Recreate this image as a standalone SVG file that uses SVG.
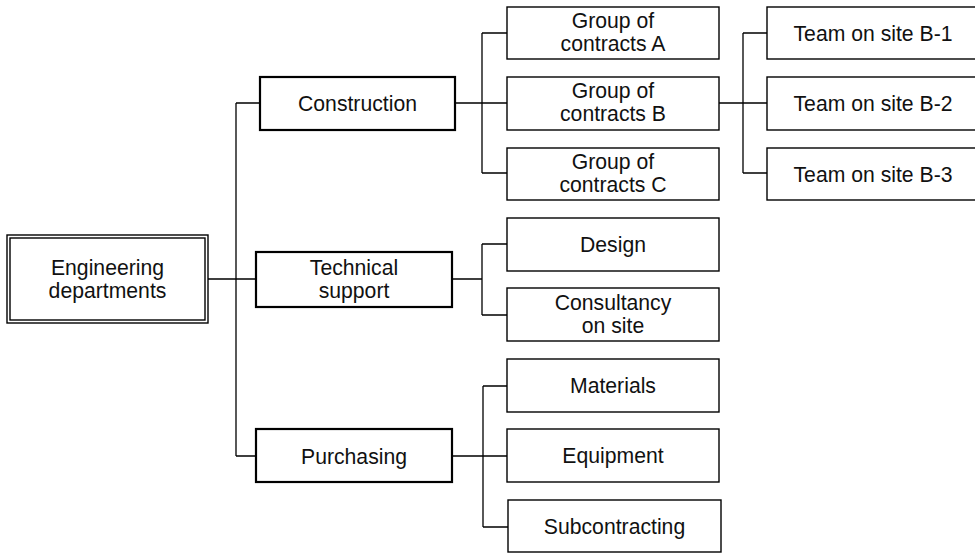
<svg xmlns="http://www.w3.org/2000/svg" width="975" height="553" viewBox="0 0 975 553">
<style>
.b{fill:#fff;stroke:#000;stroke-width:1.4}
.bt{fill:#fff;stroke:#000;stroke-width:2.2}
.t{font-family:"Liberation Sans",Arial,Helvetica,sans-serif;font-size:21.2px;fill:#111;text-anchor:middle}
.c{fill:none;stroke:#000;stroke-width:1.3}
</style>
<rect width="975" height="553" fill="#fff"/>
<g id="connectors">
<path class="c" d="M208 279H236M236 103V456M236 103H260M236 279H256M236 456H256"/>
<path class="c" d="M455 103H482M482 33V173M482 33H507M482 103H507M482 173H507"/>
<path class="c" d="M719 103H743M743 33V173M743 33H767M743 103H767M743 173H767"/>
<path class="c" d="M452 279H482M482 244V315M482 244H507M482 315H507"/>
<path class="c" d="M452 456H483M483 386V527M483 386H507M483 456H507M483 527H508"/>
</g>
<g id="engineering">
<rect class="b" x="7" y="235" width="201" height="88"/>
<rect class="b" x="10" y="238" width="195" height="82"/>
<text class="t" x="107.5" y="275">Engineering</text>
<text class="t" x="107.5" y="298">departments</text>
</g>
<g id="construction">
<rect class="bt" x="260" y="77" width="195" height="53"/>
<text class="t" x="357.5" y="111">Construction</text>
</g>
<g id="technical">
<rect class="bt" x="256" y="252" width="196" height="55"/>
<text class="t" x="354" y="275">Technical</text>
<text class="t" x="354" y="298">support</text>
</g>
<g id="purchasing">
<rect class="bt" x="256" y="429" width="196" height="53"/>
<text class="t" x="354" y="464">Purchasing</text>
</g>
<g id="groupA">
<rect class="b" x="507" y="7" width="212" height="52"/>
<text class="t" x="613" y="28">Group of</text>
<text class="t" x="613" y="51">contracts A</text>
</g>
<g id="groupB">
<rect class="b" x="507" y="77" width="212" height="53"/>
<text class="t" x="613" y="98">Group of</text>
<text class="t" x="613" y="121">contracts B</text>
</g>
<g id="groupC">
<rect class="b" x="507" y="148" width="212" height="52"/>
<text class="t" x="613" y="169">Group of</text>
<text class="t" x="613" y="192">contracts C</text>
</g>
<g id="teamB1">
<rect class="b" x="767" y="7" width="210" height="52"/>
<text class="t" x="873" y="41">Team on site B-1</text>
</g>
<g id="teamB2">
<rect class="b" x="767" y="77" width="210" height="53"/>
<text class="t" x="873" y="111">Team on site B-2</text>
</g>
<g id="teamB3">
<rect class="b" x="767" y="148" width="210" height="52"/>
<text class="t" x="873" y="182">Team on site B-3</text>
</g>
<g id="design">
<rect class="b" x="507" y="218" width="212" height="53"/>
<text class="t" x="613" y="252">Design</text>
</g>
<g id="consultancy">
<rect class="b" x="507" y="288" width="212" height="53"/>
<text class="t" x="613" y="310">Consultancy</text>
<text class="t" x="613" y="333">on site</text>
</g>
<g id="materials">
<rect class="b" x="507" y="359" width="212" height="53"/>
<text class="t" x="613" y="393">Materials</text>
</g>
<g id="equipment">
<rect class="b" x="507" y="429" width="212" height="53"/>
<text class="t" x="613" y="463">Equipment</text>
</g>
<g id="subcontracting">
<rect class="b" x="508" y="500" width="213" height="52"/>
<text class="t" x="614.5" y="534">Subcontracting</text>
</g>
</svg>
